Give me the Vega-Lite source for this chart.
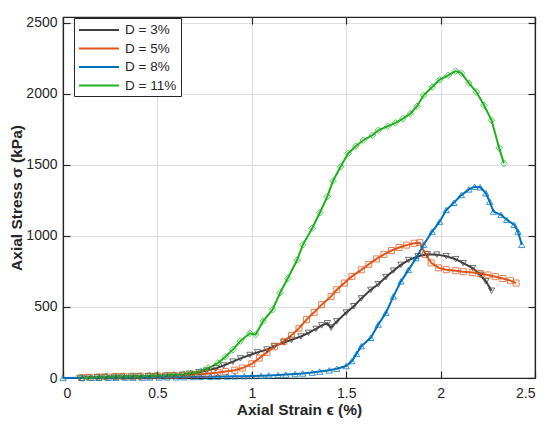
{
  "$schema": "https://vega.github.io/schema/vega-lite/v6.json",
  "width": 472,
  "height": 361,
  "autosize": {"type": "none"},
  "padding": {"left": 63, "top": 17, "right": 15, "bottom": 46},
  "config": {
    "font": "Liberation Sans",
    "view": {"stroke": "#262626", "strokeWidth": 1.2},
    "axis": {
      "domainColor": "#262626",
      "domainWidth": 1.2,
      "tickColor": "#262626",
      "tickSize": -7,
      "tickWidth": 1.2,
      "labelColor": "#262626",
      "labelFontSize": 14,
      "titleColor": "#262626",
      "titleFontSize": 15.5,
      "titleFontWeight": "bold",
      "gridColor": "#dedede",
      "gridWidth": 1
    },
    "legend": {
      "orient": "none",
      "legendX": 11,
      "legendY": 1,
      "strokeColor": "#262626",
      "fillColor": "white",
      "padding": 4,
      "labelFontSize": 13.5,
      "labelColor": "#262626",
      "rowPadding": 3.5
    }
  },
  "data": {
    "values": [
      {"D": "D = 3%", "x": 0.09, "y": 0},
      {"D": "D = 3%", "x": 0.13, "y": 3},
      {"D": "D = 3%", "x": 0.18, "y": 5},
      {"D": "D = 3%", "x": 0.22, "y": 6},
      {"D": "D = 3%", "x": 0.27, "y": 8},
      {"D": "D = 3%", "x": 0.31, "y": 9},
      {"D": "D = 3%", "x": 0.36, "y": 10},
      {"D": "D = 3%", "x": 0.40, "y": 11},
      {"D": "D = 3%", "x": 0.45, "y": 12},
      {"D": "D = 3%", "x": 0.49, "y": 13},
      {"D": "D = 3%", "x": 0.54, "y": 15},
      {"D": "D = 3%", "x": 0.58, "y": 17},
      {"D": "D = 3%", "x": 0.63, "y": 22},
      {"D": "D = 3%", "x": 0.67, "y": 30},
      {"D": "D = 3%", "x": 0.72, "y": 40},
      {"D": "D = 3%", "x": 0.76, "y": 52},
      {"D": "D = 3%", "x": 0.81, "y": 68},
      {"D": "D = 3%", "x": 0.85, "y": 88},
      {"D": "D = 3%", "x": 0.90, "y": 115},
      {"D": "D = 3%", "x": 0.94, "y": 138},
      {"D": "D = 3%", "x": 0.99, "y": 162},
      {"D": "D = 3%", "x": 1.03, "y": 180},
      {"D": "D = 3%", "x": 1.08, "y": 200},
      {"D": "D = 3%", "x": 1.12, "y": 225},
      {"D": "D = 3%", "x": 1.17, "y": 250},
      {"D": "D = 3%", "x": 1.21, "y": 268},
      {"D": "D = 3%", "x": 1.26, "y": 292},
      {"D": "D = 3%", "x": 1.30, "y": 318},
      {"D": "D = 3%", "x": 1.34, "y": 345},
      {"D": "D = 3%", "x": 1.37, "y": 370},
      {"D": "D = 3%", "x": 1.40, "y": 385},
      {"D": "D = 3%", "x": 1.42, "y": 355},
      {"D": "D = 3%", "x": 1.45, "y": 398},
      {"D": "D = 3%", "x": 1.50, "y": 460},
      {"D": "D = 3%", "x": 1.54, "y": 505},
      {"D": "D = 3%", "x": 1.58, "y": 560},
      {"D": "D = 3%", "x": 1.63, "y": 620},
      {"D": "D = 3%", "x": 1.67, "y": 660},
      {"D": "D = 3%", "x": 1.71, "y": 710},
      {"D": "D = 3%", "x": 1.75, "y": 755},
      {"D": "D = 3%", "x": 1.79, "y": 796},
      {"D": "D = 3%", "x": 1.83, "y": 830},
      {"D": "D = 3%", "x": 1.88, "y": 857},
      {"D": "D = 3%", "x": 1.93, "y": 871},
      {"D": "D = 3%", "x": 1.98, "y": 868},
      {"D": "D = 3%", "x": 2.03, "y": 857},
      {"D": "D = 3%", "x": 2.08, "y": 836},
      {"D": "D = 3%", "x": 2.12, "y": 808},
      {"D": "D = 3%", "x": 2.17, "y": 773},
      {"D": "D = 3%", "x": 2.21, "y": 726},
      {"D": "D = 3%", "x": 2.24, "y": 680},
      {"D": "D = 3%", "x": 2.27, "y": 614},

      {"D": "D = 5%", "x": 0.10, "y": 2},
      {"D": "D = 5%", "x": 0.14, "y": 5},
      {"D": "D = 5%", "x": 0.19, "y": 7},
      {"D": "D = 5%", "x": 0.23, "y": 9},
      {"D": "D = 5%", "x": 0.28, "y": 10},
      {"D": "D = 5%", "x": 0.32, "y": 11},
      {"D": "D = 5%", "x": 0.37, "y": 12},
      {"D": "D = 5%", "x": 0.41, "y": 13},
      {"D": "D = 5%", "x": 0.46, "y": 14},
      {"D": "D = 5%", "x": 0.50, "y": 15},
      {"D": "D = 5%", "x": 0.55, "y": 16},
      {"D": "D = 5%", "x": 0.59, "y": 18},
      {"D": "D = 5%", "x": 0.64, "y": 20},
      {"D": "D = 5%", "x": 0.68, "y": 23},
      {"D": "D = 5%", "x": 0.73, "y": 27},
      {"D": "D = 5%", "x": 0.77, "y": 32},
      {"D": "D = 5%", "x": 0.82, "y": 38},
      {"D": "D = 5%", "x": 0.86, "y": 45},
      {"D": "D = 5%", "x": 0.91, "y": 55},
      {"D": "D = 5%", "x": 0.95, "y": 70},
      {"D": "D = 5%", "x": 1.00, "y": 100},
      {"D": "D = 5%", "x": 1.04, "y": 140},
      {"D": "D = 5%", "x": 1.08, "y": 180},
      {"D": "D = 5%", "x": 1.12, "y": 220},
      {"D": "D = 5%", "x": 1.17, "y": 258},
      {"D": "D = 5%", "x": 1.21, "y": 300},
      {"D": "D = 5%", "x": 1.25, "y": 350},
      {"D": "D = 5%", "x": 1.29, "y": 411},
      {"D": "D = 5%", "x": 1.33, "y": 462},
      {"D": "D = 5%", "x": 1.37, "y": 516},
      {"D": "D = 5%", "x": 1.42, "y": 574},
      {"D": "D = 5%", "x": 1.45, "y": 621},
      {"D": "D = 5%", "x": 1.49, "y": 668},
      {"D": "D = 5%", "x": 1.53, "y": 715},
      {"D": "D = 5%", "x": 1.58, "y": 761},
      {"D": "D = 5%", "x": 1.62, "y": 800},
      {"D": "D = 5%", "x": 1.66, "y": 838},
      {"D": "D = 5%", "x": 1.70, "y": 870},
      {"D": "D = 5%", "x": 1.74, "y": 897},
      {"D": "D = 5%", "x": 1.78, "y": 918},
      {"D": "D = 5%", "x": 1.82, "y": 935},
      {"D": "D = 5%", "x": 1.86, "y": 948},
      {"D": "D = 5%", "x": 1.89, "y": 952},
      {"D": "D = 5%", "x": 1.92, "y": 870},
      {"D": "D = 5%", "x": 1.95, "y": 810},
      {"D": "D = 5%", "x": 1.99, "y": 775},
      {"D": "D = 5%", "x": 2.03, "y": 762},
      {"D": "D = 5%", "x": 2.08, "y": 755},
      {"D": "D = 5%", "x": 2.12, "y": 748},
      {"D": "D = 5%", "x": 2.17, "y": 742},
      {"D": "D = 5%", "x": 2.21, "y": 735},
      {"D": "D = 5%", "x": 2.25, "y": 725},
      {"D": "D = 5%", "x": 2.29, "y": 713},
      {"D": "D = 5%", "x": 2.33, "y": 700},
      {"D": "D = 5%", "x": 2.37, "y": 685},
      {"D": "D = 5%", "x": 2.40, "y": 668},

      {"D": "D = 8%", "x": 0.00, "y": 0},
      {"D": "D = 8%", "x": 0.10, "y": 1},
      {"D": "D = 8%", "x": 0.15, "y": 1},
      {"D": "D = 8%", "x": 0.19, "y": 2},
      {"D": "D = 8%", "x": 0.24, "y": 2},
      {"D": "D = 8%", "x": 0.28, "y": 2},
      {"D": "D = 8%", "x": 0.33, "y": 3},
      {"D": "D = 8%", "x": 0.37, "y": 3},
      {"D": "D = 8%", "x": 0.42, "y": 3},
      {"D": "D = 8%", "x": 0.46, "y": 4},
      {"D": "D = 8%", "x": 0.51, "y": 4},
      {"D": "D = 8%", "x": 0.55, "y": 5},
      {"D": "D = 8%", "x": 0.60, "y": 5},
      {"D": "D = 8%", "x": 0.64, "y": 6},
      {"D": "D = 8%", "x": 0.69, "y": 7},
      {"D": "D = 8%", "x": 0.73, "y": 8},
      {"D": "D = 8%", "x": 0.78, "y": 9},
      {"D": "D = 8%", "x": 0.82, "y": 10},
      {"D": "D = 8%", "x": 0.87, "y": 11},
      {"D": "D = 8%", "x": 0.91, "y": 12},
      {"D": "D = 8%", "x": 0.96, "y": 13},
      {"D": "D = 8%", "x": 1.00, "y": 14},
      {"D": "D = 8%", "x": 1.05, "y": 16},
      {"D": "D = 8%", "x": 1.09, "y": 18},
      {"D": "D = 8%", "x": 1.14, "y": 21},
      {"D": "D = 8%", "x": 1.18, "y": 24},
      {"D": "D = 8%", "x": 1.23, "y": 28},
      {"D": "D = 8%", "x": 1.27, "y": 32},
      {"D": "D = 8%", "x": 1.32, "y": 38},
      {"D": "D = 8%", "x": 1.36, "y": 45},
      {"D": "D = 8%", "x": 1.41, "y": 54},
      {"D": "D = 8%", "x": 1.45, "y": 65},
      {"D": "D = 8%", "x": 1.50, "y": 84},
      {"D": "D = 8%", "x": 1.53, "y": 119},
      {"D": "D = 8%", "x": 1.555, "y": 170},
      {"D": "D = 8%", "x": 1.58, "y": 224},
      {"D": "D = 8%", "x": 1.63, "y": 283},
      {"D": "D = 8%", "x": 1.67, "y": 376},
      {"D": "D = 8%", "x": 1.71, "y": 458},
      {"D": "D = 8%", "x": 1.75, "y": 574},
      {"D": "D = 8%", "x": 1.79, "y": 680},
      {"D": "D = 8%", "x": 1.83, "y": 761},
      {"D": "D = 8%", "x": 1.87, "y": 843},
      {"D": "D = 8%", "x": 1.91, "y": 937},
      {"D": "D = 8%", "x": 1.955, "y": 1030},
      {"D": "D = 8%", "x": 1.995, "y": 1100},
      {"D": "D = 8%", "x": 2.03, "y": 1182},
      {"D": "D = 8%", "x": 2.07, "y": 1233},
      {"D": "D = 8%", "x": 2.11, "y": 1287},
      {"D": "D = 8%", "x": 2.15, "y": 1327},
      {"D": "D = 8%", "x": 2.18, "y": 1346},
      {"D": "D = 8%", "x": 2.21, "y": 1342},
      {"D": "D = 8%", "x": 2.24, "y": 1300},
      {"D": "D = 8%", "x": 2.26, "y": 1241},
      {"D": "D = 8%", "x": 2.28, "y": 1171},
      {"D": "D = 8%", "x": 2.32, "y": 1148},
      {"D": "D = 8%", "x": 2.35, "y": 1113},
      {"D": "D = 8%", "x": 2.39, "y": 1078},
      {"D": "D = 8%", "x": 2.41, "y": 1030},
      {"D": "D = 8%", "x": 2.43, "y": 937},

      {"D": "D = 11%", "x": 0.10, "y": 2},
      {"D": "D = 11%", "x": 0.14, "y": 4},
      {"D": "D = 11%", "x": 0.19, "y": 6},
      {"D": "D = 11%", "x": 0.23, "y": 8},
      {"D": "D = 11%", "x": 0.28, "y": 10},
      {"D": "D = 11%", "x": 0.32, "y": 11},
      {"D": "D = 11%", "x": 0.37, "y": 12},
      {"D": "D = 11%", "x": 0.41, "y": 13},
      {"D": "D = 11%", "x": 0.46, "y": 15},
      {"D": "D = 11%", "x": 0.50, "y": 17},
      {"D": "D = 11%", "x": 0.55, "y": 19},
      {"D": "D = 11%", "x": 0.59, "y": 22},
      {"D": "D = 11%", "x": 0.64, "y": 27},
      {"D": "D = 11%", "x": 0.68, "y": 35},
      {"D": "D = 11%", "x": 0.73, "y": 48},
      {"D": "D = 11%", "x": 0.77, "y": 70},
      {"D": "D = 11%", "x": 0.82, "y": 105},
      {"D": "D = 11%", "x": 0.86, "y": 150},
      {"D": "D = 11%", "x": 0.90, "y": 200},
      {"D": "D = 11%", "x": 0.94, "y": 260},
      {"D": "D = 11%", "x": 0.99, "y": 315},
      {"D": "D = 11%", "x": 1.02, "y": 305},
      {"D": "D = 11%", "x": 1.06, "y": 400},
      {"D": "D = 11%", "x": 1.11, "y": 481},
      {"D": "D = 11%", "x": 1.15, "y": 600},
      {"D": "D = 11%", "x": 1.19, "y": 700},
      {"D": "D = 11%", "x": 1.24, "y": 830},
      {"D": "D = 11%", "x": 1.27, "y": 937},
      {"D": "D = 11%", "x": 1.32, "y": 1054},
      {"D": "D = 11%", "x": 1.36, "y": 1163},
      {"D": "D = 11%", "x": 1.40, "y": 1276},
      {"D": "D = 11%", "x": 1.43, "y": 1386},
      {"D": "D = 11%", "x": 1.47, "y": 1486},
      {"D": "D = 11%", "x": 1.51, "y": 1580},
      {"D": "D = 11%", "x": 1.55, "y": 1631},
      {"D": "D = 11%", "x": 1.59, "y": 1673},
      {"D": "D = 11%", "x": 1.64, "y": 1708},
      {"D": "D = 11%", "x": 1.67, "y": 1743},
      {"D": "D = 11%", "x": 1.72, "y": 1771},
      {"D": "D = 11%", "x": 1.76, "y": 1795},
      {"D": "D = 11%", "x": 1.80, "y": 1825},
      {"D": "D = 11%", "x": 1.84, "y": 1860},
      {"D": "D = 11%", "x": 1.875, "y": 1912},
      {"D": "D = 11%", "x": 1.91, "y": 1989},
      {"D": "D = 11%", "x": 1.955, "y": 2047},
      {"D": "D = 11%", "x": 1.995, "y": 2099},
      {"D": "D = 11%", "x": 2.04, "y": 2129},
      {"D": "D = 11%", "x": 2.08, "y": 2159},
      {"D": "D = 11%", "x": 2.11, "y": 2145},
      {"D": "D = 11%", "x": 2.15, "y": 2075},
      {"D": "D = 11%", "x": 2.19, "y": 2012},
      {"D": "D = 11%", "x": 2.23, "y": 1919},
      {"D": "D = 11%", "x": 2.27, "y": 1813},
      {"D": "D = 11%", "x": 2.31, "y": 1619},
      {"D": "D = 11%", "x": 2.335, "y": 1510}
    ]
  },
  "layer": [
    {
      "mark": {"type": "line", "strokeWidth": 2},
      "encoding": {
        "x": {
          "field": "x",
          "type": "quantitative",
          "scale": {"domain": [0, 2.5], "nice": false},
          "axis": {"values": [0, 0.5, 1, 1.5, 2, 2.5], "format": "~g", "labelPadding": 15, "titlePadding": 2},
          "title": "Axial Strain ϵ (%)"
        },
        "y": {
          "field": "y",
          "type": "quantitative",
          "scale": {"domain": [0, 2540], "nice": false},
          "axis": {"values": [0, 500, 1000, 1500, 2000, 2500], "format": "d", "labelPadding": 13, "titlePadding": 1},
          "title": "Axial Stress σ (kPa)"
        },
        "color": {
          "field": "D",
          "type": "nominal",
          "scale": {
            "domain": ["D = 3%", "D = 5%", "D = 8%", "D = 11%"],
            "range": ["#404040", "#e0561c", "#0072bd", "#1db31d"]
          },
          "legend": {
            "title": null,
            "symbolType": "M-3,0H3",
            "symbolSize": 178,
            "symbolStrokeWidth": 2,
            "symbolOffset": 13,
            "labelOffset": 18,
            "labelExpr": "datum.label + '\u00a0\u00a0\u00a0\u00a0\u00a0\u00a0'"
          }
        }
      }
    },
    {
      "transform": [{"filter": "datum.D == 'D = 3%'"}],
      "mark": {"type": "point", "shape": "triangle-down", "filled": false, "strokeWidth": 1, "size": 40, "opacity": 0.75, "color": "#404040"},
      "encoding": {
        "x": {"field": "x", "type": "quantitative", "axis": null},
        "y": {"field": "y", "type": "quantitative", "axis": null}
      }
    },
    {
      "transform": [{"filter": "datum.D == 'D = 5%'"}],
      "mark": {"type": "point", "shape": "square", "filled": false, "strokeWidth": 1, "size": 36, "opacity": 0.75, "color": "#e0561c"},
      "encoding": {
        "x": {"field": "x", "type": "quantitative", "axis": null},
        "y": {"field": "y", "type": "quantitative", "axis": null}
      }
    },
    {
      "transform": [{"filter": "datum.D == 'D = 8%'"}],
      "mark": {"type": "point", "shape": "triangle-up", "filled": false, "strokeWidth": 1, "size": 40, "opacity": 0.75, "color": "#0072bd"},
      "encoding": {
        "x": {"field": "x", "type": "quantitative", "axis": null},
        "y": {"field": "y", "type": "quantitative", "axis": null}
      }
    },
    {
      "transform": [{"filter": "datum.D == 'D = 11%'"}],
      "mark": {"type": "point", "shape": "diamond", "filled": false, "strokeWidth": 1, "size": 44, "opacity": 0.75, "color": "#1db31d"},
      "encoding": {
        "x": {"field": "x", "type": "quantitative", "axis": null},
        "y": {"field": "y", "type": "quantitative", "axis": null}
      }
    },
    {
      "mark": {"type": "point", "opacity": 0},
      "encoding": {
        "x": {
          "field": "x",
          "type": "quantitative",
          "axis": {"orient": "top", "values": [0, 0.5, 1, 1.5, 2, 2.5], "labels": false, "grid": false, "title": null}
        },
        "y": {
          "field": "y",
          "type": "quantitative",
          "axis": {"orient": "right", "values": [0, 500, 1000, 1500, 2000, 2500], "labels": false, "grid": false, "title": null}
        }
      }
    }
  ],
  "resolve": {"axis": {"x": "independent", "y": "independent"}}
}
